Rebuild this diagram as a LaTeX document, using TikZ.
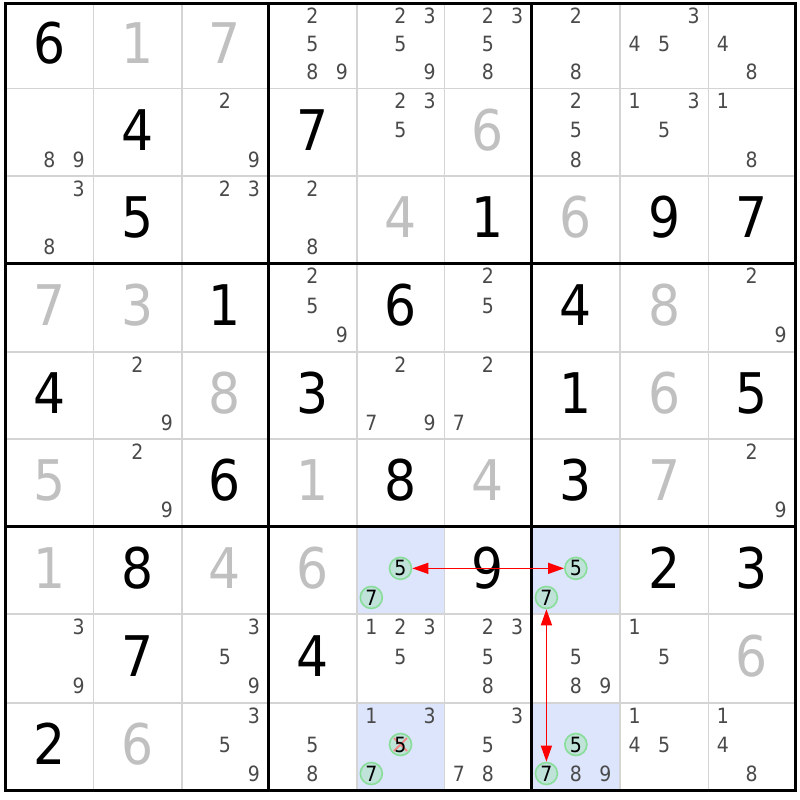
\documentclass[tikz,border=0pt]{standalone}
\usepackage{fontspec}
\setmainfont{DejaVu Sans Condensed}
\usetikzlibrary{arrows.meta}
\definecolor{candcol}{HTML}{4A4A4A}
\definecolor{solvedcol}{HTML}{C0C0C0}
\definecolor{thincol}{HTML}{D4D4D4}
\definecolor{hlcol}{HTML}{DCE5FB}
\definecolor{ringcol}{HTML}{88DD99}
\definecolor{ringfill}{HTML}{BFE3D9}
\definecolor{linkcol}{HTML}{FF0000}
\definecolor{crosscol}{HTML}{F08888}
\def\XL{{5.5,93.3,181.7,268.3,356.7,444.3,531.7,620,708.3,795}}
\def\YL{{3.5,88.3,176,263.3,352,439,526.7,614,703,790}}
\tikzset{
  cand/.style={font=\fontsize{21}{21}\selectfont, text=candcol, inner sep=0pt},
  givendigit/.style={font=\fontsize{56}{56}\selectfont, text=black, inner sep=0pt},
  solveddigit/.style={font=\fontsize{56}{56}\selectfont, text=solvedcol, inner sep=0pt},
  ring/.style={circle, draw=ringcol, line width=1.6pt, fill=ringfill, minimum size=22pt,
    inner sep=0pt, text=black, font=\fontsize{21}{21}\selectfont},
  crossed/.style={path picture={
    \draw[crosscol, line width=1.8pt] ([shift={(-6.5,-6.5)}]path picture bounding box.center) -- ([shift={(6.5,6.5)}]path picture bounding box.center);
    \draw[crosscol, line width=1.8pt] ([shift={(-6.5,6.5)}]path picture bounding box.center) -- ([shift={(6.5,-6.5)}]path picture bounding box.center);}},
  gridthin/.style={draw=thincol, line width=1.6pt},
  gridthick/.style={draw=black, line width=3pt, line cap=rect},
  hl/.style={fill=hlcol},
  link/.style={draw=linkcol, line width=1.4pt, {Triangle[length=16pt,width=11pt]}-{Triangle[length=16pt,width=11pt]}}
}
\newcommand\cellbox[2]{%
  \edef\colA{\the\numexpr#2-1\relax}\edef\rowA{\the\numexpr#1-1\relax}%
  \edef\colB{\the\numexpr#2\relax}\edef\rowB{\the\numexpr#1\relax}%
  \pgfmathsetmacro\myL{\XL[\colA]}\pgfmathsetmacro\myR{\XL[\colB]}%
  \pgfmathsetmacro\myT{\YL[\rowA]}\pgfmathsetmacro\myB{\YL[\rowB]}}
\newcommand\bigdigit[4]{%
  \cellbox{#2}{#3}%
  \pgfmathsetmacro\myX{(\myL+\myR)/2}%
  \pgfmathsetmacro\myY{(\myT+\myB)/2-2.5}%
  \node[#1] (v-#2-#3) at (\myX,\myY) {#4};}
\newcommand\givn[3]{\bigdigit{givendigit}{#1}{#2}{#3}}
\newcommand\solv[3]{\bigdigit{solveddigit}{#1}{#2}{#3}}
\newcommand\candpos[3]{%
  \cellbox{#1}{#2}%
  \pgfmathsetmacro\myX{\myL+(\myR-\myL)*(1+2*mod(#3-1,3))/6}%
  \pgfmathsetmacro\myY{\myT+(\myB-\myT)*(1+2*int((#3-1)/3))/6-2}}
\newcommand\candset[3]{%
  \foreach \d in {#3}{\candpos{#1}{#2}{\d}\node[cand] (k-#1-#2-\d) at (\myX,\myY) {\d};}}
\newcommand\ringc[4][]{%
  \candpos{#2}{#3}{#4}\node[ring,#1] (k-#2-#3-#4) at (\myX,\myY) {#4};}
\newcommand\hlcell[2]{%
  \cellbox{#1}{#2}%
  \fill[hl] (\myL,\myT) rectangle (\myR,\myB);}
\begin{document}
\begin{tikzpicture}[x=1pt,y=-1pt]
\useasboundingbox (0,0) rectangle (800,800);
\fill[white] (0,0) rectangle (800,800);
% highlighted cells
\hlcell{7}{5}\hlcell{7}{7}\hlcell{9}{5}\hlcell{9}{7}
% thin grid lines
\foreach \i in {1,2,4,5,7,8}{
  \pgfmathsetmacro\gx{\XL[\i]}\pgfmathsetmacro\gy{\YL[\i]}
  \draw[gridthin] (\gx,3.5) -- (\gx,790);
  \draw[gridthin] (5.5,\gy) -- (795,\gy);
}
% thick grid lines
\foreach \i in {0,3,6,9}{
  \pgfmathsetmacro\gx{\XL[\i]}\pgfmathsetmacro\gy{\YL[\i]}
  \draw[gridthick] (\gx,3.5) -- (\gx,790);
  \draw[gridthick] (5.5,\gy) -- (795,\gy);
}
% row 1
\givn{1}{1}{6}\solv{1}{2}{1}\solv{1}{3}{7}
\candset{1}{4}{2,5,8,9}\candset{1}{5}{2,3,5,9}\candset{1}{6}{2,3,5,8}
\candset{1}{7}{2,8}\candset{1}{8}{3,4,5}\candset{1}{9}{4,8}
% row 2
\candset{2}{1}{8,9}\givn{2}{2}{4}\candset{2}{3}{2,9}
\givn{2}{4}{7}\candset{2}{5}{2,3,5}\solv{2}{6}{6}
\candset{2}{7}{2,5,8}\candset{2}{8}{1,3,5}\candset{2}{9}{1,8}
% row 3
\candset{3}{1}{3,8}\givn{3}{2}{5}\candset{3}{3}{2,3}
\candset{3}{4}{2,8}\solv{3}{5}{4}\givn{3}{6}{1}
\solv{3}{7}{6}\givn{3}{8}{9}\givn{3}{9}{7}
% row 4
\solv{4}{1}{7}\solv{4}{2}{3}\givn{4}{3}{1}
\candset{4}{4}{2,5,9}\givn{4}{5}{6}\candset{4}{6}{2,5}
\givn{4}{7}{4}\solv{4}{8}{8}\candset{4}{9}{2,9}
% row 5
\givn{5}{1}{4}\candset{5}{2}{2,9}\solv{5}{3}{8}
\givn{5}{4}{3}\candset{5}{5}{2,7,9}\candset{5}{6}{2,7}
\givn{5}{7}{1}\solv{5}{8}{6}\givn{5}{9}{5}
% row 6
\solv{6}{1}{5}\candset{6}{2}{2,9}\givn{6}{3}{6}
\solv{6}{4}{1}\givn{6}{5}{8}\solv{6}{6}{4}
\givn{6}{7}{3}\solv{6}{8}{7}\candset{6}{9}{2,9}
% row 7
\solv{7}{1}{1}\givn{7}{2}{8}\solv{7}{3}{4}
\solv{7}{4}{6}\ringc{7}{5}{5}\ringc{7}{5}{7}\givn{7}{6}{9}
\ringc{7}{7}{5}\ringc{7}{7}{7}\givn{7}{8}{2}\givn{7}{9}{3}
% row 8
\candset{8}{1}{3,9}\givn{8}{2}{7}\candset{8}{3}{3,5,9}
\givn{8}{4}{4}\candset{8}{5}{1,2,3,5}\candset{8}{6}{2,3,5,8}
\candset{8}{7}{5,8,9}\candset{8}{8}{1,5}\solv{8}{9}{6}
% row 9
\givn{9}{1}{2}\solv{9}{2}{6}\candset{9}{3}{3,5,9}
\candset{9}{4}{5,8}\candset{9}{5}{1,3}\ringc[crossed]{9}{5}{5}\ringc{9}{5}{7}
\candset{9}{6}{3,5,7,8}
\ringc{9}{7}{5}\ringc{9}{7}{7}\candset{9}{7}{8,9}
\candset{9}{8}{1,4,5}\candset{9}{9}{1,4,8}
% links
\draw[link] (k-7-5-5) -- (k-7-7-5);
\draw[link] (k-7-7-7) -- (k-9-7-7);
\end{tikzpicture}
\end{document}
